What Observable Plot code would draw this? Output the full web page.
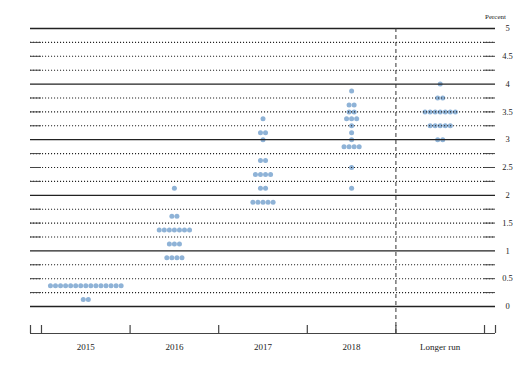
<!DOCTYPE html>
<html>
<head>
<meta charset="utf-8">
<script src="https://cdn.jsdelivr.net/npm/d3@7"></script>
<script src="https://cdn.jsdelivr.net/npm/@observablehq/plot@0.6"></script>
<style>
  html, body { margin: 0; padding: 0; background: #fff; }
  svg { display: block; }
</style>
</head>
<body>
<div id="chart"></div>
<script>
// Categories (columns)
const categories = ["2015", "2016", "2017", "2018", "Longer run"];

// Dots per category: [rate (percent), number of participants]
const dots2015   = [[0.375, 15], [0.125, 2]];
const dots2016   = [[2.125, 1], [1.625, 2], [1.375, 7], [1.125, 3], [0.875, 4]];
const dots2017   = [[3.375, 1], [3.125, 2], [3.0, 1], [2.625, 2], [2.375, 4], [2.125, 2], [1.875, 5]];
const dots2018   = [[3.875, 1], [3.625, 2], [3.5, 2], [3.375, 3], [3.25, 1], [3.125, 1], [3.0, 1], [2.875, 4], [2.5, 1], [2.125, 1]];
const dotsLonger = [[4.0, 1], [3.75, 2], [3.5, 7], [3.25, 5], [3.0, 2]];

// Right-hand tick values and labels
const yTickValues = [0, 0.5, 1, 1.5, 2, 2.5, 3, 3.5, 4, 4.5, 5];
const yTickLabels = ["0", "0.5", "1", "1.5", "2", "2.5", "3", "3.5", "4", "4.5", "5"];

// ---- layout (style, not data) ----
const W = 525, H = 369;
const mL = 30, mR = 30, mT = 28, mB = 36;
const xMin = -0.124, xMax = categories.length + 0.124;
const yMin = -0.486, yMax = 5;
const pxPerX = (W - mL - mR) / (xMax - xMin);
const dotSpacing = 5.05 / pxPerX;

const allDots = [dots2015, dots2016, dots2017, dots2018, dotsLonger];
const dotData = [];
allDots.forEach((rows, k) => {
  rows.forEach(([rate, n]) => {
    for (let j = 0; j < n; j++) {
      dotData.push({x: k + 0.5 + (j - (n - 1) / 2) * dotSpacing, y: rate});
    }
  });
});

const intLines = d3.range(0, 5 + 1e-9, 1);
const quarterLines = d3.range(0.25, 5, 0.25).filter(v => Math.abs(v - Math.round(v)) > 1e-9);
const boundaries = d3.range(0, categories.length + 1);
const axisTicks = [xMin, ...boundaries, xMax];
const font = "'Liberation Serif', 'DejaVu Serif', serif";

const chart = Plot.plot({
  width: W, height: H,
  marginLeft: mL, marginRight: mR, marginTop: mT, marginBottom: mB,
  x: {type: "linear", domain: [xMin, xMax], axis: null},
  y: {type: "linear", domain: [yMin, yMax], axis: null},
  style: {fontFamily: font, background: "#fff"},
  marks: [
    // dots
    Plot.dot(dotData, {x: "x", y: "y", r: 2.5, fill: "#8fb3d7", stroke: "none"}),
    // dotted quarter lines
    Plot.ruleY(quarterLines, {y: d => d, stroke: "#222", strokeWidth: 1.1, strokeDasharray: "1.1,1.9"}),
    // solid edge ticks on quarter lines
    Plot.ruleY(quarterLines, {y: d => d, x1: xMin, x2: 0, stroke: "#444", strokeWidth: 1}),
    Plot.ruleY(quarterLines, {y: d => d, x1: categories.length, x2: xMax, stroke: "#444", strokeWidth: 1}),
    // solid integer lines
    Plot.ruleY(intLines, {y: d => d, stroke: "#222", strokeWidth: 1.3}),
    // vertical dashed separator before "Longer run"
    Plot.ruleX([categories.length - 1], {x: d => d, y1: yMin, y2: yMax, stroke: "#333", strokeWidth: 1, strokeDasharray: "4,3"}),
    // bottom axis line
    Plot.ruleY([yMin], {y: d => d, stroke: "#444", strokeWidth: 1.2}),
    // bottom axis ticks (pointing up)
    Plot.ruleX(axisTicks, {x: d => d, y1: yMin, y2: yMin, insetTop: -8, stroke: "#444", strokeWidth: 1.2}),
    // category labels
    Plot.text(categories, {x: (d, i) => i + 0.5, y: yMin, dy: 14, text: d => d, fontSize: 9, fill: "#222", fontFamily: font}),
    // right-hand value labels
    Plot.text(yTickValues, {y: d => d, frameAnchor: "right", dx: 12, text: (d, i) => yTickLabels[i], textAnchor: "middle", fontSize: 8.5, fill: "#222", fontFamily: font}),
    // unit label
    Plot.text(["Percent"], {frameAnchor: "top-right", dy: -14, text: d => d, textAnchor: "middle", fontSize: 7, fill: "#222", fontFamily: font})
  ]
});
document.getElementById("chart").appendChild(chart);
</script>
</body>
</html>
